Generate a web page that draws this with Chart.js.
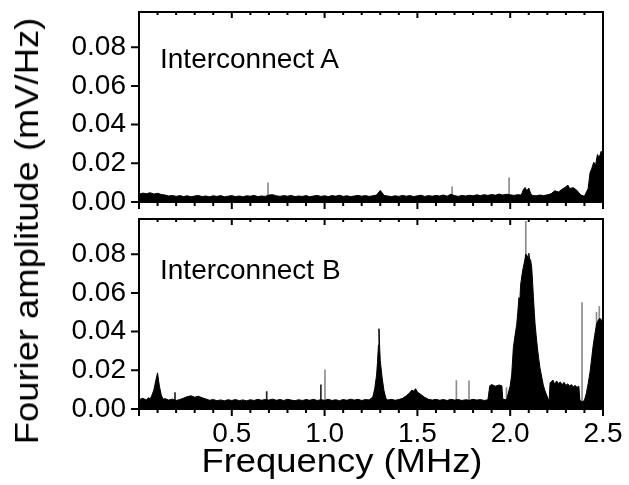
<!DOCTYPE html>
<html>
<head>
<meta charset="utf-8">
<script src="https://cdn.jsdelivr.net/npm/chart.js@4.4.0/dist/chart.umd.min.js"></script>
<style>
  html, body { margin: 0; padding: 0; background: #fff; }
  #wrap { position: relative; width: 629px; height: 485px; overflow: hidden; font-family: "Liberation Sans", Arial, sans-serif; color: #000; }
  canvas { position: absolute; left: 0; }
  #cA { top: 0; }
  #cB { top: 213px; }
  .lbl { position: absolute; font-size: 28px; line-height: 28px; white-space: nowrap; }
  #ytitle { position: absolute; left: 26px; top: 231px; font-size: 34px; line-height: 34px; white-space: nowrap;
            transform: translate(-50%, -50%) rotate(-90deg) scaleX(1.07); }
  #xtitle { position: absolute; left: 342px; top: 443px; font-size: 34px; line-height: 34px; white-space: nowrap;
            transform: translateX(-50%) scaleX(1.07); }
</style>
</head>
<body>
<div id="wrap">
  <canvas id="cA" width="629" height="215"></canvas>
  <canvas id="cB" width="629" height="272"></canvas>
  <div class="lbl" style="left:160px; top:45px;">Interconnect A</div>
  <div class="lbl" style="left:160px; top:256px;">Interconnect B</div>
  <div id="ytitle">Fourier amplitude (mV/Hz)</div>
  <div id="xtitle">Frequency (MHz)</div>
</div>
<script>
// interconnect A - upper envelope of the spectrum (MHz, mV/Hz)
const freqA = [0.00,0.02,0.04,0.06,0.08,0.10,0.12,0.14,0.16,0.18,0.20,0.22,0.24,0.26,0.28,0.30,0.32,0.34,0.36,0.38,
  0.40,0.42,0.44,0.46,0.48,0.50,0.52,0.54,0.56,0.58,0.60,0.62,0.64,0.66,0.68,0.70,0.72,0.74,0.76,0.78,
  0.80,0.82,0.84,0.86,0.88,0.90,0.92,0.94,0.96,0.98,1.00,1.02,1.04,1.06,1.08,1.10,1.12,1.14,1.16,1.18,
  1.20,1.22,1.24,1.26,1.28,1.30,1.31,1.32,1.34,1.36,1.38,1.40,1.42,1.44,1.46,1.48,1.50,1.52,1.54,1.56,
  1.58,1.60,1.62,1.64,1.66,1.68,1.70,1.72,1.74,1.76,1.78,1.80,1.82,1.84,1.86,1.88,1.90,1.92,1.94,1.96,
  1.98,2.00,2.02,2.04,2.06,2.07,2.08,2.09,2.10,2.11,2.12,2.14,2.16,2.18,2.20,2.22,2.24,2.26,2.28,2.30,
  2.31,2.32,2.34,2.36,2.37,2.38,2.40,2.42,2.43,2.44,2.45,2.46,2.47,2.48,2.49,2.50];
const ampA = [.0040,.0046,.0043,.0048,.0041,.0045,.0039,.0036,.0031,.0034,.0029,.0033,.0028,.0032,.0027,.0031,.0034,.0028,.0031,.0027,
  .0032,.0029,.0033,.0027,.0030,.0033,.0028,.0031,.0027,.0032,.0030,.0034,.0028,.0031,.0029,.0036,.0038,.0032,.0029,.0033,
  .0030,.0034,.0028,.0031,.0029,.0033,.0027,.0031,.0034,.0029,.0032,.0028,.0033,.0030,.0035,.0029,.0032,.0028,.0031,.0034,
  .0030,.0033,.0029,.0032,.0036,.0060,.0048,.0034,.0031,.0028,.0032,.0029,.0034,.0030,.0033,.0028,.0032,.0035,.0029,.0033,
  .0030,.0034,.0031,.0036,.0030,.0040,.0033,.0029,.0034,.0031,.0035,.0032,.0037,.0033,.0038,.0034,.0039,.0035,.0041,.0036,
  .0040,.0037,.0034,.0038,.0036,.0062,.0075,.0058,.0072,.0045,.0034,.0032,.0036,.0033,.0037,.0042,.0058,.0052,.0066,.0078,
  .0088,.0070,.0074,.0060,.0048,.0036,.0030,.0070,.0150,.0175,.0205,.0190,.0245,.0230,.0262,.0250];
// thin single-bin lines in A
const lineFreqA = [0.695, 1.687, 1.994];
const lineAmpA = [0.0099, 0.0078, 0.0125];

// interconnect B
const freqB = [0.00,0.02,0.04,0.05,0.06,0.07,0.08,0.09,0.10,0.105,0.11,0.12,0.13,0.14,0.16,0.18,0.20,0.22,0.24,0.26,
  0.28,0.30,0.32,0.34,0.36,0.38,0.40,0.42,0.44,0.46,0.48,0.50,0.52,0.54,0.56,0.58,0.60,0.62,0.64,0.66,
  0.68,0.70,0.72,0.74,0.76,0.78,0.80,0.82,0.84,0.86,0.88,0.90,0.92,0.94,0.96,0.98,1.00,1.02,1.04,1.06,
  1.08,1.10,1.12,1.14,1.16,1.18,1.20,1.22,1.24,1.26,1.27,1.28,1.285,1.29,1.293,1.297,1.30,1.31,1.32,1.33,
  1.34,1.36,1.38,1.40,1.42,1.44,1.46,1.47,1.48,1.49,1.50,1.52,1.54,1.56,1.58,1.60,1.62,1.64,1.66,1.68,
  1.70,1.72,1.74,1.76,1.78,1.80,1.82,1.84,1.86,1.88,1.89,1.90,1.92,1.94,1.955,1.96,1.98,2.00,2.008,2.017,
  2.026,2.035,2.041,2.047,2.052,2.056,2.063,2.07,2.077,2.084,2.09,2.096,2.10,2.105,2.11,2.116,2.121,2.125,2.13,2.134,
  2.14,2.146,2.153,2.16,2.17,2.178,2.187,2.196,2.205,2.21,2.215,2.23,2.24,2.25,2.26,2.27,2.28,2.29,2.30,2.31,
  2.32,2.33,2.34,2.35,2.36,2.37,2.375,2.38,2.39,2.40,2.41,2.42,2.43,2.44,2.446,2.455,2.466,2.475,2.483,2.49,2.50];
const ampB = [.0048,.0055,.0046,.0058,.0052,.0072,.0098,.0145,.0187,.0150,.0118,.0072,.0050,.0054,.0046,.0051,.0044,.0049,.0056,.0064,
  .0068,.0061,.0066,.0058,.0052,.0045,.0049,.0043,.0047,.0042,.0048,.0044,.0049,.0043,.0047,.0042,.0048,.0044,.0050,.0045,
  .0049,.0046,.0051,.0045,.0049,.0044,.0050,.0046,.0043,.0048,.0044,.0049,.0045,.0050,.0044,.0048,.0045,.0050,.0044,.0048,
  .0043,.0049,.0045,.0051,.0046,.0050,.0044,.0049,.0047,.0062,.0105,.0175,.0240,.0330,.0415,.0310,.0250,.0160,.0095,.0056,
  .0046,.0050,.0045,.0049,.0055,.0068,.0085,.0098,.0092,.0105,.0088,.0074,.0060,.0050,.0046,.0050,.0045,.0049,.0044,.0050,
  .0046,.0049,.0044,.0048,.0045,.0050,.0046,.0049,.0044,.0048,.0120,.0126,.0118,.0124,.0120,.0052,.0046,.0120,.0176,.0317,
  .0380,.0436,.0500,.0576,.0560,.0640,.0690,.0730,.0760,.0800,.0795,.0780,.0805,.0775,.0770,.0730,.0650,.0580,.0500,.0440,
  .0380,.0320,.0265,.0215,.0165,.0125,.0095,.0073,.0050,.0048,.0135,.0150,.0128,.0145,.0132,.0140,.0125,.0138,.0122,.0130,
  .0118,.0126,.0115,.0122,.0112,.0118,.0050,.0040,.0038,.0045,.0080,.0130,.0190,.0270,.0320,.0380,.0440,.0460,.0470,.0450,.0480];
// faint lines and dark lines in B
const lineFreqB = [1.002, 1.71, 1.778, 1.98, 2.084, 2.387, 2.465, 2.48];
const lineAmpB = [0.0203, 0.0147, 0.0145, 0.0110, 0.0970, 0.0550, 0.0500, 0.0530];
const darkFreqB = [0.194, 0.688, 0.98];
const darkAmpB = [0.0085, 0.0090, 0.0125];

const yTicksMax = 0.0982;
const FONT = '"Liberation Sans", Arial, sans-serif';

const pts = (xs, ys) => xs.map((f, i) => ({ x: f, y: ys[i] }));

const framePlugin = {
  id: 'frame',
  afterDraw(chart) {
    const { ctx, chartArea: a } = chart;
    const x = chart.scales.x, y = chart.scales.y;
    ctx.save();
    ctx.strokeStyle = '#000';
    ctx.lineWidth = 2;
    ctx.strokeRect(a.left, a.top, a.right - a.left, a.bottom - a.top);
    ctx.beginPath();
    x.ticks.forEach(t => {
      const px = x.getPixelForValue(t.value);
      const major = Math.round(t.value * 10) % 5 === 0;
      ctx.moveTo(px, a.bottom); ctx.lineTo(px, a.bottom + (major ? 7 : 4));
      ctx.moveTo(px, a.top); ctx.lineTo(px, a.top + (major ? 6 : 3));
    });
    y.ticks.forEach(t => {
      const py = y.getPixelForValue(t.value);
      ctx.moveTo(a.left - 8, py); ctx.lineTo(a.left, py);
    });
    ctx.stroke();
    ctx.restore();
  }
};

function panel(id, padTop, xHeight, showX, datasets) {
  new Chart(document.getElementById(id), {
    type: 'line',
    data: { datasets: datasets },
    options: {
      responsive: false,
      animation: false,
      events: [],
      layout: { padding: { left: 0, right: 26, top: padTop, bottom: 0 } },
      plugins: { legend: { display: false }, tooltip: { enabled: false } },
      scales: {
        x: {
          type: 'linear', min: 0, max: 2.5, offset: false,
          grid: { display: false, drawTicks: false, offset: false },
          border: { display: false },
          ticks: {
            display: showX, stepSize: 0.1, autoSkip: false, maxRotation: 0, padding: 8,
            color: '#000', font: { family: FONT, size: 28 },
            callback: v => {
              const t = Math.round(v * 10);
              return (t % 5 === 0 && t > 0) ? (t / 10).toFixed(1) : '';
            }
          },
          afterFit: s => { s.height = xHeight; s.paddingLeft = 0; s.paddingRight = 0; }
        },
        y: {
          type: 'linear', min: 0, max: yTicksMax,
          grid: { display: false, drawTicks: false },
          border: { display: false },
          ticks: {
            stepSize: 0.02, includeBounds: false, padding: 13,
            color: '#000', font: { family: FONT, size: 28 },
            callback: v => v.toFixed(2)
          },
          afterFit: s => { s.width = 139; s.paddingTop = 0; s.paddingBottom = 0; }
        }
      }
    },
    plugins: [framePlugin]
  });
}

panel('cA', 12, 13, false, [
  { type: 'line', data: pts(freqA, ampA), fill: 'origin', backgroundColor: '#000', borderColor: '#000', borderWidth: 1, pointRadius: 0, tension: 0 },
  { type: 'bar', data: pts(lineFreqA, lineAmpA), backgroundColor: '#8c8c8c', barThickness: 1, grouped: false }
]);

panel('cB', 6, 76, true, [
  { type: 'line', data: pts(freqB, ampB), fill: 'origin', backgroundColor: '#000', borderColor: '#000', borderWidth: 1, pointRadius: 0, tension: 0 },
  { type: 'bar', data: pts(lineFreqB, lineAmpB), backgroundColor: '#8c8c8c', barThickness: 1, grouped: false },
  { type: 'bar', data: pts(darkFreqB, darkAmpB), backgroundColor: '#222', barThickness: 1, grouped: false }
]);
</script>
</body>
</html>
